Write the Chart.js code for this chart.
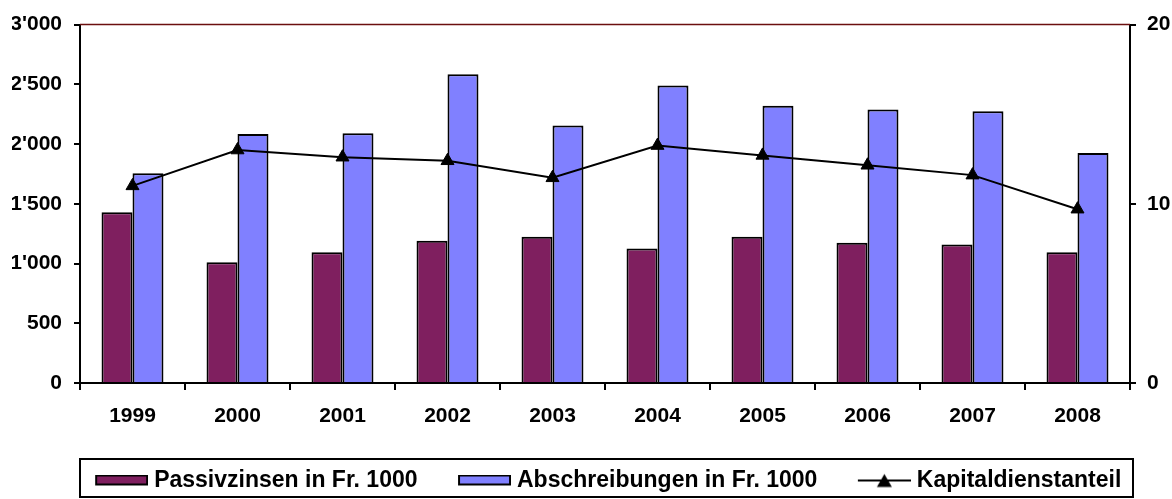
<!DOCTYPE html>
<html>
<head>
<meta charset="utf-8">
<script src="https://cdn.jsdelivr.net/npm/chart.js@4/dist/chart.umd.min.js"></script>
<style>
  html, body { margin: 0; padding: 0; background: #ffffff; }
  #wrap { width: 1172px; height: 499px; }
</style>
</head>
<body>
<div id="wrap"><canvas id="c" width="1172" height="499"></canvas></div>
<script>
const categories = ['1999', '2000', '2001', '2002', '2003', '2004', '2005', '2006', '2007', '2008'];
const passivzinsen = [1430, 1010, 1095, 1190, 1225, 1125, 1225, 1175, 1160, 1095];
const abschreibungen = [1755, 2085, 2090, 2585, 2155, 2490, 2320, 2290, 2275, 1925];
const kapitaldienstanteil = [11.0, 13.0, 12.6, 12.4, 11.45, 13.25, 12.7, 12.15, 11.6, 9.7];
const leftTickLabels = ["0", "500", "1'000", "1'500", "2'000", "2'500", "3'000"];
const rightTickLabels = ["0", "10", "20"];
const seriesNames = ['Passivzinsen in Fr. 1000', 'Abschreibungen in Fr. 1000', 'Kapitaldienstanteil'];

const PURPLE = '#7f1f5f';
const BLUE = '#8080ff';
const FONT = "'Liberation Sans', Arial, sans-serif";

// legend symbols
function swatch(color) {
  const W = 91, H = 12;
  const cv = document.createElement('canvas');
  cv.width = W; cv.height = H;
  const g = cv.getContext('2d');
  g.fillStyle = color;
  g.fillRect(W - 53, 0, 53, 11);
  g.strokeStyle = '#000';
  g.lineWidth = 2;
  g.strokeRect(W - 53 + 1, 1, 51, 9);
  return cv;
}
function lineSym() {
  const W = 91, H = 16;
  const cv = document.createElement('canvas');
  cv.width = W; cv.height = H;
  const g = cv.getContext('2d');
  g.strokeStyle = '#000';
  g.lineWidth = 2;
  g.beginPath(); g.moveTo(W - 53, 8); g.lineTo(W, 8); g.stroke();
  const cx = W - 26.5;
  g.fillStyle = '#000';
  g.beginPath(); g.moveTo(cx, 1.5); g.lineTo(cx + 7.5, 14.5); g.lineTo(cx - 7.5, 14.5); g.closePath(); g.fill();
  return cv;
}
const legendSymbols = [swatch(PURPLE), swatch(BLUE), lineSym()];

const framePlugin = {
  id: 'frame',
  afterDraw(chart) {
    const ctx = chart.ctx;
    const a = chart.chartArea;
    ctx.save();
    ctx.strokeStyle = '#6b0f0f';
    ctx.lineWidth = 1.5;
    ctx.beginPath(); ctx.moveTo(a.left, a.top); ctx.lineTo(a.right, a.top); ctx.stroke();
    ctx.strokeStyle = '#000';
    ctx.lineWidth = 2;
    ctx.strokeRect(a.left, chart.height - 40, 1133 - a.left, 38);
    ctx.restore();
  }
};

new Chart(document.getElementById('c'), {
  data: {
    labels: categories,
    datasets: [
      {
        type: 'bar', label: seriesNames[0], data: passivzinsen, yAxisID: 'y', order: 1,
        backgroundColor: PURPLE, borderColor: '#000', borderWidth: 2,
        categoryPercentage: 0.59, barPercentage: 1.0
      },
      {
        type: 'bar', label: seriesNames[1], data: abschreibungen, yAxisID: 'y', order: 1,
        backgroundColor: BLUE, borderColor: '#000', borderWidth: 2,
        categoryPercentage: 0.59, barPercentage: 1.0
      },
      {
        type: 'line', label: seriesNames[2], data: kapitaldienstanteil, yAxisID: 'y1', order: 0,
        borderColor: '#000', borderWidth: 2, backgroundColor: '#000',
        pointStyle: 'triangle', pointRadius: 7.5, pointBackgroundColor: '#000', pointBorderColor: '#000',
        pointBorderWidth: 1, tension: 0, fill: false
      }
    ]
  },
  options: {
    responsive: false,
    animation: false,
    layout: { padding: { left: 12, right: 0, top: 22, bottom: -3 } },
    plugins: {
      tooltip: { enabled: false },
      legend: {
        position: 'bottom',
        labels: {
          usePointStyle: true,
          pointStyleWidth: 80,
          padding: 8,
          color: '#000',
          font: { family: FONT, size: 23, weight: 'bold' },
          generateLabels(chart) {
            const items = Chart.defaults.plugins.legend.labels.generateLabels(chart);
            items.sort((p, q) => p.datasetIndex - q.datasetIndex);
            items.forEach(it => { it.pointStyle = legendSymbols[it.datasetIndex]; });
            return items;
          }
        }
      }
    },
    scales: {
      x: {
        type: 'category',
        offset: true,
        grid: { display: true, drawOnChartArea: false, offset: true, tickLength: 7, color: '#000', lineWidth: 2 },
        border: { display: true, color: '#000', width: 2 },
        ticks: { color: '#000', padding: 14, font: { family: FONT, size: 21, weight: 'bold' }, maxRotation: 0 },
        afterFit(s) { s.height = 78; }
      },
      y: {
        position: 'left',
        min: 0, max: 3000,
        ticks: {
          stepSize: 500, color: '#000', padding: 12,
          font: { family: FONT, size: 21, weight: 'bold' },
          callback: (v, i) => leftTickLabels[i]
        },
        grid: { display: true, drawOnChartArea: false, tickLength: 6, color: '#000', lineWidth: 2 },
        border: { display: true, color: '#000', width: 2 },
        afterFit(s) { s.width = 68; }
      },
      y1: {
        position: 'right',
        min: 0, max: 20,
        ticks: {
          stepSize: 10, color: '#000', padding: 11,
          font: { family: FONT, size: 21, weight: 'bold' },
          callback: (v, i) => rightTickLabels[i]
        },
        grid: { display: true, drawOnChartArea: false, tickLength: 6, color: '#000', lineWidth: 2 },
        border: { display: true, color: '#000', width: 2 },
        afterFit(s) { s.width = 42; }
      }
    }
  },
  plugins: [framePlugin]
});
</script>
</body>
</html>
